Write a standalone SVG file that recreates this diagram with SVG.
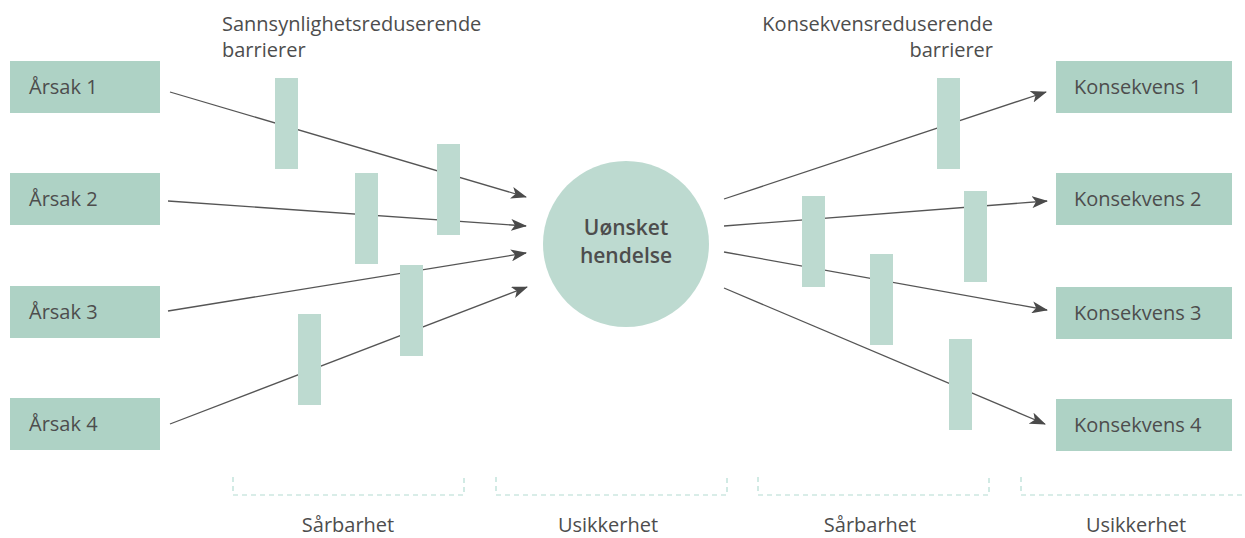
<svg xmlns="http://www.w3.org/2000/svg" width="1245" height="538" viewBox="0 0 1245 538">
<defs>
<style>
.box{fill:#aed2c5}
.bar{fill:#bddad0}
.t{font-family:"Open Sans","DejaVu Sans",sans-serif;font-size:20px;fill:#4d4d4d}
.b{font-family:"Open Sans","DejaVu Sans",sans-serif;font-size:21px;font-weight:600;fill:#4d4d4d}
.ln{stroke:#555;stroke-width:1.3;fill:none;marker-end:url(#ah)}
.br{stroke:#b3dcd2;stroke-width:1.2;fill:none;stroke-dasharray:5 4}
</style>
<marker id="ah" viewBox="0 0 16 12" refX="15" refY="6" markerWidth="16" markerHeight="12" markerUnits="userSpaceOnUse" orient="auto">
<path d="M0,0 L16,6 L0,12 L4,6 z" fill="#4a4a4a"/>
</marker>
</defs>
<rect width="1245" height="538" fill="#fff"/>
<g id="connectors">
<line class="ln" x1="170" y1="92" x2="526" y2="197"/>
<line class="ln" x1="168" y1="201" x2="526" y2="226"/>
<line class="ln" x1="168" y1="311" x2="526" y2="253"/>
<line class="ln" x1="170" y1="424" x2="527" y2="287"/>
<line class="ln" x1="724" y1="199" x2="1046" y2="92"/>
<line class="ln" x1="724" y1="226" x2="1047" y2="201"/>
<line class="ln" x1="724" y1="252" x2="1047" y2="310"/>
<line class="ln" x1="724" y1="288" x2="1045" y2="424"/>
</g>
<g id="barriers">
<rect class="bar" x="275" y="78" width="23" height="91"/>
<rect class="bar" x="355" y="173" width="23" height="91"/>
<rect class="bar" x="437" y="144" width="23" height="91"/>
<rect class="bar" x="400" y="265" width="23" height="91"/>
<rect class="bar" x="298" y="314" width="23" height="91"/>
<rect class="bar" x="937" y="78" width="23" height="91"/>
<rect class="bar" x="964" y="191" width="23" height="91"/>
<rect class="bar" x="802" y="196" width="23" height="91"/>
<rect class="bar" x="870" y="254" width="23" height="91"/>
<rect class="bar" x="949" y="339" width="23" height="91"/>
</g>
<g id="arsak1"><rect class="box" x="10" y="61" width="150" height="52"/><text class="t" x="29" y="94">Årsak 1</text></g>
<g id="arsak2"><rect class="box" x="10" y="173" width="150" height="52"/><text class="t" x="29" y="206">Årsak 2</text></g>
<g id="arsak3"><rect class="box" x="10" y="286" width="150" height="52"/><text class="t" x="29" y="319">Årsak 3</text></g>
<g id="arsak4"><rect class="box" x="10" y="398" width="150" height="52"/><text class="t" x="29" y="431">Årsak 4</text></g>
<g id="konsekvens1"><rect class="box" x="1056" y="61" width="176" height="52"/><text class="t" x="1074" y="94">Konsekvens 1</text></g>
<g id="konsekvens2"><rect class="box" x="1056" y="173" width="176" height="52"/><text class="t" x="1074" y="206">Konsekvens 2</text></g>
<g id="konsekvens3"><rect class="box" x="1056" y="287" width="176" height="52"/><text class="t" x="1074" y="320">Konsekvens 3</text></g>
<g id="konsekvens4"><rect class="box" x="1056" y="399" width="176" height="52"/><text class="t" x="1074" y="432">Konsekvens 4</text></g>
<g id="hendelse">
<circle cx="626" cy="244" r="83" fill="#bddad0"/>
<text class="b" x="626" y="235" text-anchor="middle">Uønsket</text>
<text class="b" x="626" y="263" text-anchor="middle">hendelse</text>
</g>
<g id="labels">
<text class="t" x="222" y="31">Sannsynlighetsreduserende</text>
<text class="t" x="222" y="57">barrierer</text>
<text class="t" x="993" y="31" text-anchor="end">Konsekvensreduserende</text>
<text class="t" x="993" y="57" text-anchor="end">barrierer</text>
</g>
<g id="brackets">
<path class="br" d="M233,477 V495 H464 V477"/>
<path class="br" d="M496,477 V495 H727 V477"/>
<path class="br" d="M758,477 V495 H989 V477"/>
<path class="br" d="M1021,477 V495 H1245"/>
<text class="t" x="348" y="532" text-anchor="middle">Sårbarhet</text>
<text class="t" x="608" y="532" text-anchor="middle">Usikkerhet</text>
<text class="t" x="870" y="532" text-anchor="middle">Sårbarhet</text>
<text class="t" x="1136" y="532" text-anchor="middle">Usikkerhet</text>
</g>
</svg>
